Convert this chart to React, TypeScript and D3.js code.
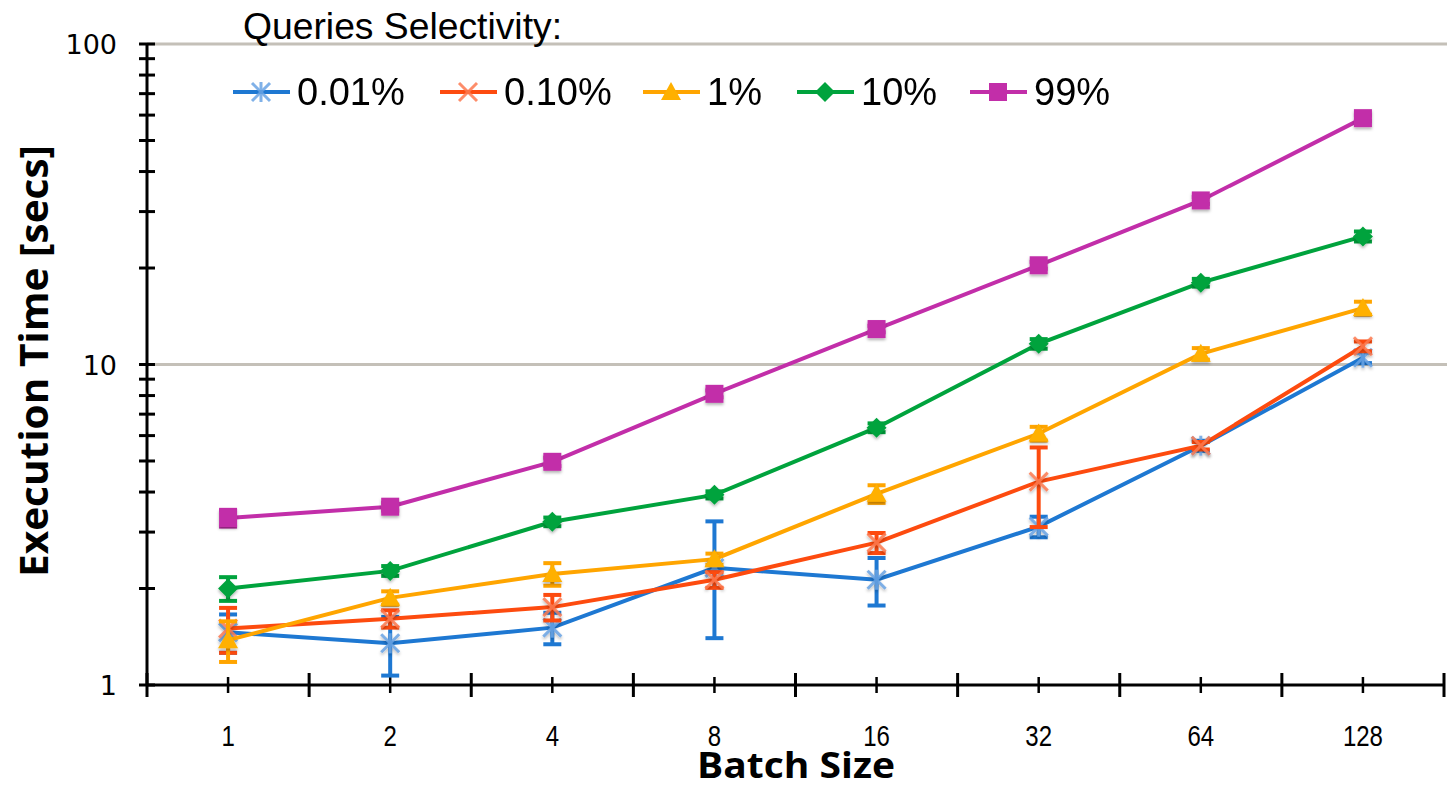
import React from "react";
import * as d3 from "d3";

const categories = ["1", "2", "4", "8", "16", "32", "64", "128"];
const seriesNames = ["0.01%", "0.10%", "1%", "10%", "99%"];
const seriesColors = ["#1e78d2", "#fd4b0f", "#ffa500", "#00a33d", "#c22ea9"];
const markerColors = ["#6aa4e4", "#fd7a50", "#ffb000", "#00a33d", "#c22ea9"];
const markerTypes = ["asterisk", "x", "triangle", "diamond", "square"];

const blueValues = [1.46, 1.35, 1.51, 2.32, 2.13, 3.12, 5.58, 10.5];
const redValues = [1.5, 1.61, 1.75, 2.13, 2.78, 4.31, 5.58, 11.4];
const orangeValues = [1.38, 1.87, 2.22, 2.47, 3.95, 6.09, 10.8, 15.0];
const greenValues = [2.0, 2.27, 3.23, 3.92, 6.35, 11.6, 18.0, 25.1];
const purpleValues = [3.32, 3.6, 4.97, 8.1, 12.9, 20.4, 32.5, 58.7];

const blueErrors = [0.2, 0.28, 0.17, 0.92, 0.36, 0.23, 0.2, 0.4];
const redErrors = [0.24, 0.1, 0.16, 0.12, 0.2, 1.2, 0.15, 0.4];
const orangeErrors = [0.2, 0.09, 0.18, 0.1, 0.25, 0.3, 0.45, 0.7];
const greenErrors = [0.17, 0.08, 0.1, 0.1, 0.2, 0.4, 0.5, 0.9];
const purpleErrors = [0.2, 0.1, 0.15, 0.2, 0.3, 0.5, 0.8, 1.2];

const yTickLabels = [1, 10, 100];

const seriesValues = [blueValues, redValues, orangeValues, greenValues, purpleValues];
const seriesErrors = [blueErrors, redErrors, orangeErrors, greenErrors, purpleErrors];

const W = 1447;
const H = 788;
const left = 147;
const right = 1444;
const top = 44;
const bottom = 685;

function Marker({ type, x, y, color }: { type: string; x: number; y: number; color: string }) {
  const s = 9;
  if (type === "asterisk") {
    return (
      <g stroke={color} strokeWidth={3} opacity={0.85}>
        <line x1={x} y1={y - s - 1} x2={x} y2={y + s + 1} />
        <line x1={x - s} y1={y - s} x2={x + s} y2={y + s} />
        <line x1={x - s} y1={y + s} x2={x + s} y2={y - s} />
      </g>
    );
  }
  if (type === "x") {
    return (
      <g stroke={color} strokeWidth={3} opacity={0.85}>
        <line x1={x - s} y1={y - s} x2={x + s} y2={y + s} />
        <line x1={x - s} y1={y + s} x2={x + s} y2={y - s} />
      </g>
    );
  }
  if (type === "triangle") {
    return <path d={`M${x},${y - 10}L${x + 10},${y + 8}L${x - 10},${y + 8}Z`} fill={color} />;
  }
  if (type === "diamond") {
    return <path d={`M${x},${y - 10}L${x + 10},${y}L${x},${y + 10}L${x - 10},${y}Z`} fill={color} />;
  }
  return <rect x={x - 9} y={y - 9} width={18} height={18} fill={color} />;
}

export default function App() {
  const x = d3.scaleBand<string>().domain(categories).range([left, right]);
  const bw = x.bandwidth();
  const cx = (c: string) => (x(c) as number) + bw / 2;
  const y = d3.scaleLog().domain([1, 100]).range([bottom, top]);

  const line = d3
    .line<number>()
    .x((_, i) => cx(categories[i]))
    .y((d) => y(d));

  const minorTicks: number[] = [];
  for (const dec of [1, 10]) {
    for (let k = 2; k <= 9; k++) minorTicks.push(dec * k);
  }

  const boundaries = categories.map((c) => x(c) as number).concat([right]);

  const legendX = [233, 440, 643, 797, 970];

  return (
    <svg width={W} height={H} style={{ position: "absolute", left: 0, top: 0, background: "#fff" }}>
      <defs>
        <filter id="sh" x="-50%" y="-50%" width="200%" height="200%">
          <feDropShadow dx="0" dy="2" stdDeviation="1.5" floodColor="#000" floodOpacity="0.3" />
        </filter>
      </defs>
      {/* gridlines */}
      {[10, 100].map((v) => (
        <line key={v} x1={left} x2={W} y1={y(v)} y2={y(v)} stroke="#c4c0b8" strokeWidth={3} />
      ))}
      {/* y axis */}
      <line x1={left} x2={left} y1={top} y2={bottom} stroke="#000" strokeWidth={3} />
      {yTickLabels.map((v) => (
        <line key={"M" + v} x1={left - 8} x2={left + 8} y1={y(v)} y2={y(v)} stroke="#000" strokeWidth={3} />
      ))}
      {minorTicks.map((v) => (
        <line key={"m" + v} x1={left - 8} x2={left + 8} y1={y(v)} y2={y(v)} stroke="#000" strokeWidth={3} />
      ))}
      {yTickLabels.map((v) => (
        <text
          key={"t" + v}
          x={117}
          y={y(v) + 10}
          textAnchor="end"
          fontFamily="DejaVu Sans"
          fontSize={27}
          fill="#000"
        >
          {v}
        </text>
      ))}
      {/* x axis */}
      <line x1={left} x2={right} y1={bottom} y2={bottom} stroke="#000" strokeWidth={3} />
      {boundaries.map((b, i) => (
        <line key={"b" + i} x1={b} x2={b} y1={bottom - 12} y2={bottom + 12} stroke="#000" strokeWidth={3} />
      ))}
      {categories.map((c) => (
        <line key={"c" + c} x1={cx(c)} x2={cx(c)} y1={bottom - 8} y2={bottom + 8} stroke="#000" strokeWidth={2.5} />
      ))}
      {categories.map((c) => (
        <text
          key={"xl" + c}
          transform={`translate(${cx(c)},746) scale(0.8,1)`}
          textAnchor="middle"
          fontFamily="'Liberation Sans', sans-serif"
          fontSize={30}
          fill="#000"
        >
          {c}
        </text>
      ))}
      {/* axis titles */}
      <text
        x={796}
        y={778}
        textAnchor="middle"
        fontFamily="'Open Sans'"
        fontWeight="bold"
        fontSize={35}
        textLength={198}
        lengthAdjust="spacingAndGlyphs"
      >
        Batch Size
      </text>
      <text
        transform={`translate(48,361) rotate(-90)`}
        textAnchor="middle"
        fontFamily="'Open Sans'"
        fontWeight="bold"
        fontSize={40}
        textLength={432}
        lengthAdjust="spacingAndGlyphs"
      >
        Execution Time [secs]
      </text>
      {/* series */}
      {seriesValues.map((vals, si) => (
        <g key={"s" + si}>
          <path d={line(vals) || ""} fill="none" stroke={seriesColors[si]} strokeWidth={4} />
          {vals.map((v, i) => {
            const e = seriesErrors[si][i];
            const px = cx(categories[i]);
            const y1 = y(v + e);
            const y0 = y(Math.max(v - e, 1.001));
            return (
              <g key={"e" + i} stroke={seriesColors[si]} strokeWidth={4}>
                <line x1={px} x2={px} y1={y1} y2={y0} />
                <line x1={px - 9} x2={px + 9} y1={y1} y2={y1} />
                <line x1={px - 9} x2={px + 9} y1={y0} y2={y0} />
              </g>
            );
          })}
          <g filter="url(#sh)">
            {vals.map((v, i) => (
              <Marker key={"mk" + i} type={markerTypes[si]} x={cx(categories[i])} y={y(v)} color={markerColors[si]} />
            ))}
          </g>
        </g>
      ))}
      {/* legend */}
      <text x={243} y={39} fontFamily="'Liberation Sans'" fontSize={37} textLength={319} lengthAdjust="spacingAndGlyphs">
        Queries Selectivity:
      </text>
      {seriesNames.map((n, si) => (
        <g key={"lg" + si}>
          <line x1={legendX[si]} x2={legendX[si] + 57} y1={92} y2={92} stroke={seriesColors[si]} strokeWidth={4} />
          <Marker type={markerTypes[si]} x={legendX[si] + 28} y={92} color={markerColors[si]} />
          <text x={legendX[si] + 64} y={105} fontFamily="'Liberation Sans'" fontSize={38} fill="#000">
            {n}
          </text>
        </g>
      ))}
    </svg>
  );
}
